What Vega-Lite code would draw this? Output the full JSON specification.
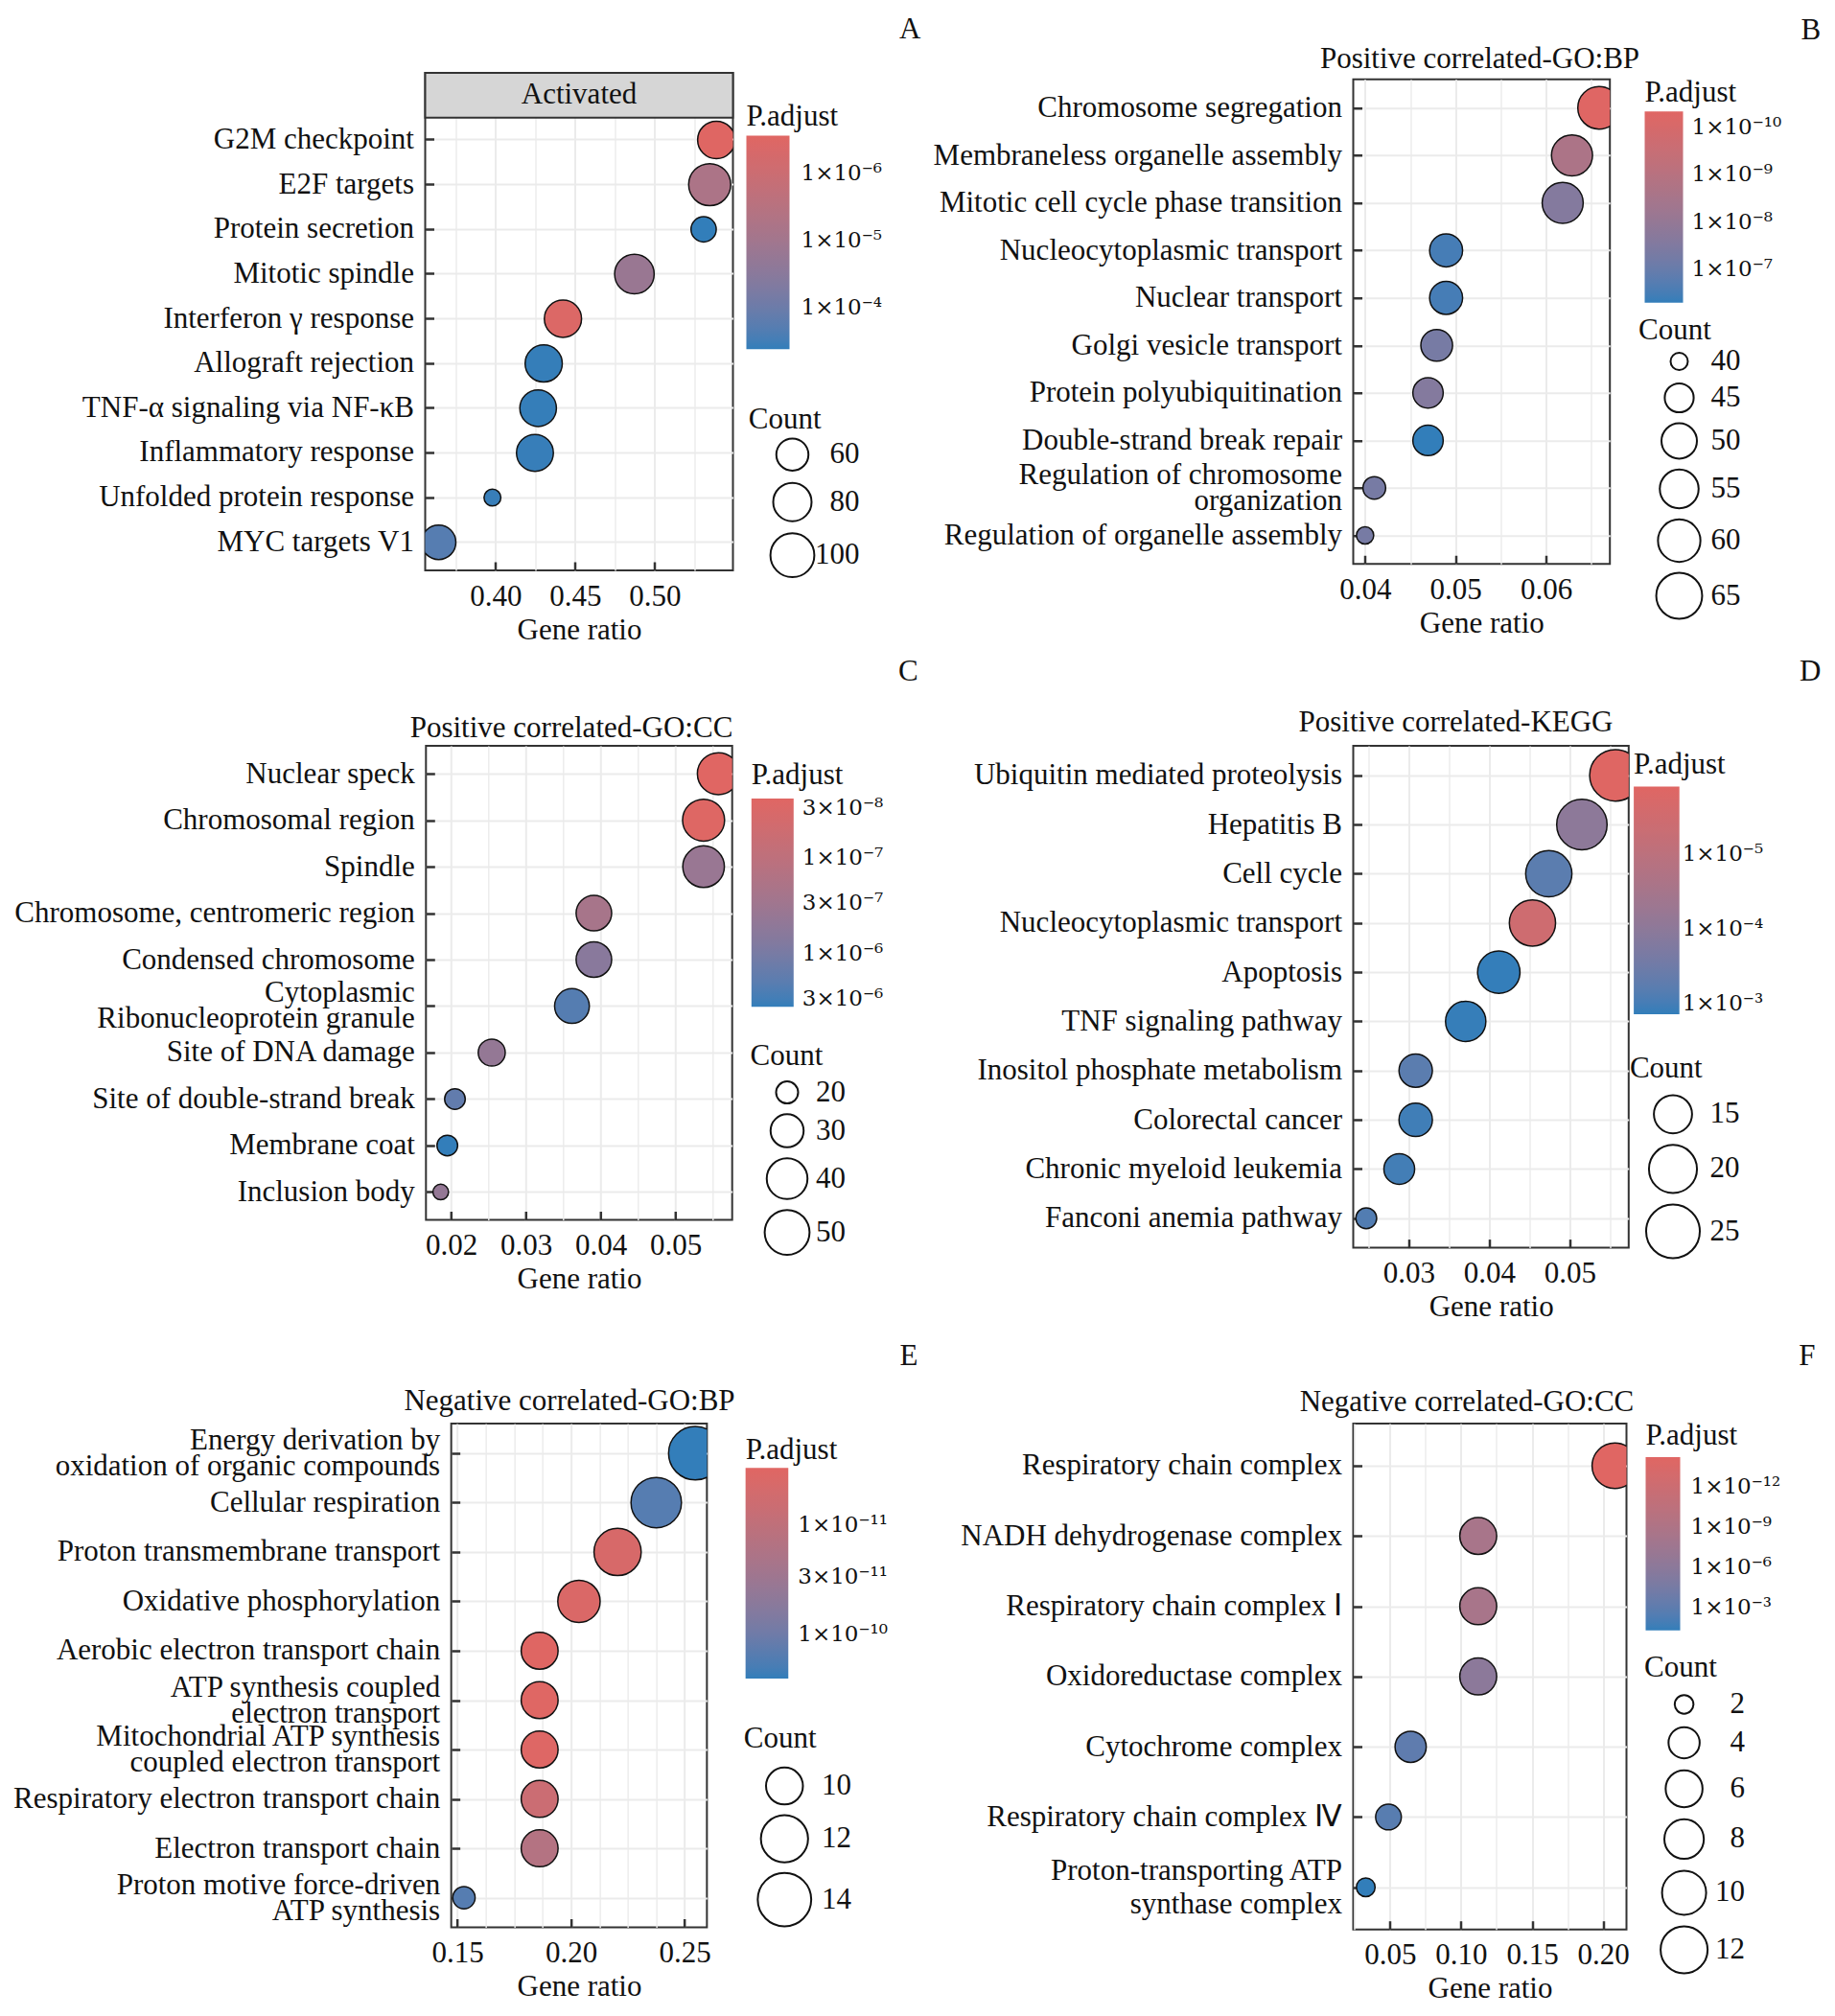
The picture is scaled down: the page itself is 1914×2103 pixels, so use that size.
{
  "$schema": "https://vega.github.io/schema/vega-lite/v6.json",
  "background": "white",
  "padding": {"left": 12.5, "top": 13, "right": 5, "bottom": 5},
  "config": {
    "font": "Liberation Serif",
    "view": {"stroke": "#333333", "strokeWidth": 2},
    "axis": {
      "labelFont": "Liberation Serif", "labelFontSize": 31, "labelColor": "#111111",
      "titleFont": "Liberation Serif", "titleFontSize": 31, "titleFontWeight": "normal", "titleColor": "#111111",
      "gridColor": "#EBEBEB", "gridWidth": 2,
      "tickColor": "#333333", "tickWidth": 2.5, "tickSize": -9,
      "labelPadding": 21, "domain": false, "labelOverlap": false, "labelLimit": 2000, "labelFlush": false, "titlePadding": 5
    },
    "legend": {
      "titleFont": "Liberation Serif", "titleFontSize": 31, "titleFontWeight": "normal", "titleColor": "#111111",
      "labelFont": "Liberation Serif", "labelFontSize": 31, "labelColor": "#111111",
      "padding": 0, "gradientStrokeWidth": 0, "labelOverlap": false, "symbolBaseFillColor": "white"
    },
    "title": {"font": "Liberation Serif", "fontSize": 31, "fontWeight": "normal", "color": "#111111"},
    "text": {"font": "Liberation Serif"}
  },
  "datasets": {
    "A": [
      {"term": "G2M checkpoint", "ratio": 0.5388, "padj": 2.8e-7, "count": 77},
      {"term": "E2F targets", "ratio": 0.5346, "padj": 5.9e-6, "count": 93},
      {"term": "Protein secretion", "ratio": 0.5308, "padj": 4.2e-4, "count": 42},
      {"term": "Mitotic spindle", "ratio": 0.4873, "padj": 1.5e-5, "count": 84},
      {"term": "Interferon γ response", "ratio": 0.4424, "padj": 3.5e-7, "count": 76},
      {"term": "Allograft rejection", "ratio": 0.4303, "padj": 4.0e-4, "count": 76},
      {"term": "TNF-α signaling via NF-κB", "ratio": 0.4268, "padj": 4.0e-4, "count": 74},
      {"term": "Inflammatory response", "ratio": 0.4248, "padj": 3.9e-4, "count": 75},
      {"term": "Unfolded protein response", "ratio": 0.3981, "padj": 3.8e-4, "count": 26},
      {"term": "MYC targets V1", "ratio": 0.3643, "padj": 2.0e-4, "count": 67}
    ],
    "A_strip": [
      {"term": "Activated"}
    ],
    "B": [
      {"term": "Chromosome segregation", "ratio": 0.06587, "padj": 5e-11, "count": 60},
      {"term": "Membraneless organelle assembly", "ratio": 0.06288, "padj": 2.2e-9, "count": 58},
      {"term": "Mitotic cell cycle phase transition", "ratio": 0.06185, "padj": 2.5e-8, "count": 58},
      {"term": "Nucleocytoplasmic transport", "ratio": 0.04896, "padj": 3.1e-7, "count": 48},
      {"term": "Nuclear transport", "ratio": 0.04896, "padj": 3.1e-7, "count": 48},
      {"term": "Golgi vesicle transport", "ratio": 0.04792, "padj": 4.8e-8, "count": 47},
      {"term": "Protein polyubiquitination", "ratio": 0.04696, "padj": 2.5e-8, "count": 46},
      {"term": "Double-strand break repair", "ratio": 0.04696, "padj": 4.9e-7, "count": 46},
      {"term": "Regulation of chromosome|organization", "ratio": 0.04102, "padj": 4.8e-8, "count": 42},
      {"term": "Regulation of organelle assembly", "ratio": 0.0400, "padj": 4.8e-8, "count": 40}
    ],
    "C": [
      {"term": "Nuclear speck", "ratio": 0.05572, "padj": 2.4e-8, "count": 43},
      {"term": "Chromosomal region", "ratio": 0.05374, "padj": 2.6e-8, "count": 43},
      {"term": "Spindle", "ratio": 0.05374, "padj": 3.8e-7, "count": 42},
      {"term": "Chromosome, centromeric region", "ratio": 0.03907, "padj": 2.3e-7, "count": 33},
      {"term": "Condensed chromosome", "ratio": 0.03907, "padj": 6.3e-7, "count": 33},
      {"term": "Cytoplasmic|Ribonucleoprotein granule", "ratio": 0.03614, "padj": 2.2e-6, "count": 32},
      {"term": "Site of DNA damage", "ratio": 0.02541, "padj": 4.4e-7, "count": 24},
      {"term": "Site of double-strand break", "ratio": 0.02049, "padj": 1.7e-6, "count": 19},
      {"term": "Membrane coat", "ratio": 0.01947, "padj": 3.6e-6, "count": 19},
      {"term": "Inclusion body", "ratio": 0.01859, "padj": 4.4e-7, "count": 16}
    ],
    "D": [
      {"term": "Ubiquitin mediated proteolysis", "ratio": 0.05565, "padj": 1.3e-6, "count": 23},
      {"term": "Hepatitis B", "ratio": 0.05149, "padj": 1.0e-4, "count": 22},
      {"term": "Cell cycle", "ratio": 0.04738, "padj": 6.0e-4, "count": 19},
      {"term": "Nucleocytoplasmic transport", "ratio": 0.04535, "padj": 3.6e-6, "count": 19},
      {"term": "Apoptosis", "ratio": 0.04117, "padj": 1.35e-3, "count": 17},
      {"term": "TNF signaling pathway", "ratio": 0.03706, "padj": 1.3e-3, "count": 16},
      {"term": "Inositol phosphate metabolism", "ratio": 0.03085, "padj": 6.0e-4, "count": 13},
      {"term": "Colorectal cancer", "ratio": 0.03085, "padj": 1.1e-3, "count": 13},
      {"term": "Chronic myeloid leukemia", "ratio": 0.02881, "padj": 1.05e-3, "count": 12},
      {"term": "Fanconi anemia pathway", "ratio": 0.02471, "padj": 7.5e-4, "count": 9}
    ],
    "E": [
      {"term": "Energy derivation by|oxidation of organic compounds", "ratio": 0.2547, "padj": 2.5e-10, "count": 14},
      {"term": "Cellular respiration", "ratio": 0.2375, "padj": 1.6e-10, "count": 13},
      {"term": "Proton transmembrane transport", "ratio": 0.2205, "padj": 4.2e-12, "count": 12},
      {"term": "Oxidative phosphorylation", "ratio": 0.2035, "padj": 3.8e-12, "count": 11},
      {"term": "Aerobic electron transport chain", "ratio": 0.1862, "padj": 3.1e-12, "count": 10},
      {"term": "ATP synthesis coupled|electron transport", "ratio": 0.1862, "padj": 3.2e-12, "count": 10},
      {"term": "Mitochondrial ATP synthesis|coupled electron transport", "ratio": 0.1862, "padj": 3.3e-12, "count": 10},
      {"term": "Respiratory electron transport chain", "ratio": 0.1862, "padj": 6.7e-12, "count": 10},
      {"term": "Electron transport chain", "ratio": 0.1862, "padj": 1.5e-11, "count": 10},
      {"term": "Proton motive force-driven|ATP synthesis", "ratio": 0.1529, "padj": 1.6e-10, "count": 8}
    ],
    "F": [
      {"term": "Respiratory chain complex", "ratio": 0.2083, "padj": 7e-15, "count": 11},
      {"term": "NADH dehydrogenase complex", "ratio": 0.1121, "padj": 4e-9, "count": 6},
      {"term": "Respiratory chain complex Ⅰ", "ratio": 0.1121, "padj": 4e-9, "count": 6},
      {"term": "Oxidoreductase complex", "ratio": 0.1121, "padj": 8.7e-7, "count": 6},
      {"term": "Cytochrome complex", "ratio": 0.0645, "padj": 8e-4, "count": 4},
      {"term": "Respiratory chain complex Ⅳ", "ratio": 0.0489, "padj": 1.9e-3, "count": 3},
      {"term": "Proton-transporting ATP|synthase complex", "ratio": 0.0329, "padj": 0.05, "count": 2}
    ]
  },
  "columns": 2,
  "spacing": {"row": 183, "column": 647},
  "bounds": "flush",
  "align": "each",
  "center": true,
  "resolve": {
    "scale": {"color": "independent", "size": "independent"},
    "legend": {"color": "independent", "size": "independent"}
  },
  "concat": [
    {
      "width": 321,
      "height": 519,
      "title": {"text": "A", "anchor": "end", "frame": "group", "dx": 196, "offset": 4.1, "baseline": "alphabetic"},
      "layer": [
        {
          "data": {"name": "A"},
          "mark": {"type": "point", "filled": true, "opacity": 1, "stroke": "#111111", "strokeWidth": 1.5, "clip": true},
          "encoding": {
            "x": {
              "field": "ratio", "type": "quantitative",
              "scale": {"domain": [0.35584, 0.54922], "nice": false, "zero": false},
              "axis": {
                "orient": "bottom", "title": "Gene ratio",
                "values": [0.375, 0.4, 0.425, 0.45, 0.475, 0.5, 0.525],
                "labelExpr": "indexof([0.4, 0.45, 0.5], datum.value) >= 0 ? format(datum.value, '.2f') : ''",
                "tickOpacity": {"condition": {"test": "indexof([0.4, 0.45, 0.5], datum.value) >= 0", "value": 1}, "value": 0},
                "gridWidth": {"condition": {"test": "indexof([0.4, 0.45, 0.5], datum.value) >= 0", "value": 2}, "value": 1.4}
              }
            },
            "y": {
              "field": "term", "type": "nominal", "sort": null,
              "scale": {
                "type": "band", "paddingInner": 0, "paddingOuter": 0.064, "align": 0,
                "domain": ["Activated", "G2M checkpoint", "E2F targets", "Protein secretion", "Mitotic spindle", "Interferon γ response", "Allograft rejection", "TNF-α signaling via NF-κB", "Inflammatory response", "Unfolded protein response", "MYC targets V1"]
              },
              "axis": {
                "title": null, "grid": true, "bandPosition": 0.5,
                "values": ["G2M checkpoint", "E2F targets", "Protein secretion", "Mitotic spindle", "Interferon γ response", "Allograft rejection", "TNF-α signaling via NF-κB", "Inflammatory response", "Unfolded protein response", "MYC targets V1"]
              }
            },
            "color": {
              "field": "padj", "type": "quantitative",
              "scale": {"type": "log", "domain": [4.2e-4, 2.7e-7], "range": ["#327EBA", "#E06663"], "interpolate": "lab", "nice": false},
              "legend": {
                "title": "P.adjust", "orient": "none", "legendX": 335, "legendY": 30.9, "direction": "vertical",
                "gradientLength": 222.6, "gradientThickness": 45, "titlePadding": 3.7,
                "values": [1e-6, 1e-5, 1e-4], "labelFont": "DejaVu Serif", "labelFontSize": 23, "labelOffset": 12,
                "labelExpr": "round(log(datum.value)/LN10*10) == -60 ? '1×10⁻⁶' : round(log(datum.value)/LN10*10) == -50 ? '1×10⁻⁵' : '1×10⁻⁴'"
              }
            },
            "size": {
              "field": "count", "type": "quantitative",
              "scale": {"domain": [60, 80, 100], "range": [1122, 1600, 2098], "zero": false, "nice": false},
              "legend": {
                "title": "Count", "orient": "none", "legendX": 337.2, "legendY": 347.2, "direction": "vertical",
                "values": [60, 80, 100], "symbolType": "circle", "symbolFillColor": "white", "symbolStrokeColor": "#111111", "symbolStrokeWidth": 2,
                "symbolOffset": 21.8, "labelOffset": 46, "labelAlign": "right", "rowPadding": 4.5, "titlePadding": 2,
                "encode": {"symbols": {"update": {"fill": {"value": "white"}, "stroke": {"value": "#111111"}, "strokeWidth": {"value": 2}}}}
              }
            }
          }
        },
        {
          "data": {"name": "A_strip"},
          "mark": {"type": "rect", "fill": "#D6D6D6", "stroke": "#333333", "strokeWidth": 2},
          "encoding": {"y": {"field": "term", "type": "nominal", "sort": null}}
        },
        {
          "data": {"name": "A_strip"},
          "mark": {"type": "text", "fontSize": 31, "color": "#111111"},
          "encoding": {"y": {"field": "term", "type": "nominal", "sort": null}, "text": {"field": "term"}}
        }
      ]
    },
    {
      "width": 267.7,
      "height": 505.5,
      "title": {"text": "B", "anchor": "end", "frame": "group", "dx": 220, "offset": -26.15, "baseline": "alphabetic"},
      "layer": [
        {
          "data": {"name": "B"},
          "mark": {"type": "point", "filled": true, "opacity": 1, "stroke": "#111111", "strokeWidth": 1.5, "clip": true},
          "encoding": {
            "x": {
              "field": "ratio", "type": "quantitative",
              "scale": {"domain": [0.03869, 0.06707], "nice": false, "zero": false},
              "axis": {
                "orient": "bottom", "title": "Gene ratio",
                "values": [0.04, 0.045, 0.05, 0.055, 0.06, 0.065],
                "labelExpr": "indexof([0.04, 0.05, 0.06], datum.value) >= 0 ? format(datum.value, '.2f') : ''",
                "tickOpacity": {"condition": {"test": "indexof([0.04, 0.05, 0.06], datum.value) >= 0", "value": 1}, "value": 0},
                "gridWidth": {"condition": {"test": "indexof([0.04, 0.05, 0.06], datum.value) >= 0", "value": 2}, "value": 1.4}
              }
            },
            "y": {
              "field": "term", "type": "nominal", "sort": null,
              "scale": {"type": "point", "padding": 0.6},
              "axis": {"title": null, "grid": true, "labelExpr": "split(datum.label, '|')", "labelLineHeight": 27,
                       "labelOffset": {"condition": {"test": "indexof(datum.label, '|') >= 0", "value": -13.5}, "value": 0}}
            },
            "color": {
              "field": "padj", "type": "quantitative",
              "scale": {"type": "log", "domain": [4.9e-7, 4.6e-11], "range": ["#327EBA", "#E06663"], "interpolate": "lab", "nice": false},
              "legend": {
                "title": "P.adjust", "orient": "none", "legendX": 304, "legendY": -1, "direction": "vertical",
                "gradientLength": 199.5, "gradientThickness": 40, "titlePadding": 3.4,
                "values": [1e-10, 1e-9, 1e-8, 1e-7], "labelFont": "DejaVu Serif", "labelFontSize": 23, "labelOffset": 9,
                "labelExpr": "round(log(datum.value)/LN10*10) == -100 ? '1×10⁻¹⁰' : round(log(datum.value)/LN10*10) == -90 ? '1×10⁻⁹' : round(log(datum.value)/LN10*10) == -80 ? '1×10⁻⁸' : '1×10⁻⁷'"
              }
            },
            "size": {
              "field": "count", "type": "quantitative",
              "scale": {"domain": [40, 45, 50, 55, 60, 65], "range": [324, 912, 1369, 1640, 1962, 2294], "zero": false, "nice": false},
              "legend": {
                "title": "Count", "orient": "none", "legendX": 297.5, "legendY": 246.75, "direction": "vertical",
                "values": [40, 45, 50, 55, 60, 65], "symbolType": "circle", "symbolFillColor": "white", "symbolStrokeColor": "#111111", "symbolStrokeWidth": 2,
                "symbolOffset": 17.5, "labelOffset": 39, "labelAlign": "right", "rowPadding": 3, "titlePadding": 1,
                "encode": {"symbols": {"update": {"fill": {"value": "white"}, "stroke": {"value": "#111111"}, "strokeWidth": {"value": 2}}}}
              }
            }
          }
        },
        {
          "data": {"name": "B"},
          "mark": {"type": "point", "opacity": 0},
          "encoding": {
            "x": {
              "field": "ratio", "type": "quantitative",
              "axis": {"orient": "top", "labels": false, "ticks": false, "domain": false, "grid": false, "minExtent": 0, "maxExtent": 0,
                       "title": "Positive correlated-GO:BP", "titlePadding": 12, "titleX": 131.5, "titleBaseline": "alphabetic"}
            }
          }
        }
      ]
    },
    {
      "width": 319.4,
      "height": 494.5,
      "title": {"text": "C", "anchor": "end", "frame": "group", "dx": 194, "offset": 2.1, "baseline": "alphabetic"},
      "layer": [
        {
          "data": {"name": "C"},
          "mark": {"type": "point", "filled": true, "opacity": 1, "stroke": "#111111", "strokeWidth": 1.5, "clip": true},
          "encoding": {
            "x": {
              "field": "ratio", "type": "quantitative",
              "scale": {"domain": [0.016615, 0.057564], "nice": false, "zero": false},
              "axis": {
                "orient": "bottom", "title": "Gene ratio",
                "values": [0.02, 0.025, 0.03, 0.035, 0.04, 0.045, 0.05, 0.055],
                "labelExpr": "indexof([0.02, 0.03, 0.04, 0.05], datum.value) >= 0 ? format(datum.value, '.2f') : ''",
                "tickOpacity": {"condition": {"test": "indexof([0.02, 0.03, 0.04, 0.05], datum.value) >= 0", "value": 1}, "value": 0},
                "gridWidth": {"condition": {"test": "indexof([0.02, 0.03, 0.04, 0.05], datum.value) >= 0", "value": 2}, "value": 1.4}
              }
            },
            "y": {
              "field": "term", "type": "nominal", "sort": null,
              "scale": {"type": "point", "padding": 0.6},
              "axis": {"title": null, "grid": true, "labelExpr": "split(datum.label, '|')", "labelLineHeight": 27,
                       "labelOffset": {"condition": {"test": "indexof(datum.label, '|') >= 0", "value": -13.5}, "value": 0}}
            },
            "color": {
              "field": "padj", "type": "quantitative",
              "scale": {"type": "log", "domain": [3.62e-6, 2.39e-8], "range": ["#327EBA", "#E06663"], "interpolate": "lab", "nice": false},
              "legend": {
                "title": "P.adjust", "orient": "none", "legendX": 339.5, "legendY": 16, "direction": "vertical",
                "gradientLength": 217.4, "gradientThickness": 44, "titlePadding": 7.9,
                "values": [3e-8, 1e-7, 3e-7, 1e-6, 3e-6], "labelFont": "DejaVu Serif", "labelFontSize": 23, "labelOffset": 9,
                "labelExpr": "round(log(datum.value)/LN10*10) == -75 ? '3×10⁻⁸' : round(log(datum.value)/LN10*10) == -70 ? '1×10⁻⁷' : round(log(datum.value)/LN10*10) == -65 ? '3×10⁻⁷' : round(log(datum.value)/LN10*10) == -60 ? '1×10⁻⁶' : '3×10⁻⁶'"
              }
            },
            "size": {
              "field": "count", "type": "quantitative",
              "scale": {"domain": [20, 30, 40, 50], "range": [529, 1190, 1806, 2190], "zero": false, "nice": false},
              "legend": {
                "title": "Count", "orient": "none", "legendX": 338.2, "legendY": 308.5, "direction": "vertical",
                "values": [20, 30, 40, 50], "symbolType": "circle", "symbolFillColor": "white", "symbolStrokeColor": "#111111", "symbolStrokeWidth": 2,
                "symbolOffset": 14, "labelOffset": 36.4, "labelAlign": "right", "rowPadding": 3, "titlePadding": 6.6,
                "encode": {"symbols": {"update": {"fill": {"value": "white"}, "stroke": {"value": "#111111"}, "strokeWidth": {"value": 2}}}}
              }
            }
          }
        },
        {
          "data": {"name": "C"},
          "mark": {"type": "point", "opacity": 0},
          "encoding": {
            "x": {
              "field": "ratio", "type": "quantitative",
              "axis": {"orient": "top", "labels": false, "ticks": false, "domain": false, "grid": false, "minExtent": 0, "maxExtent": 0,
                       "title": "Positive correlated-GO:CC", "titlePadding": 10, "titleX": 151.2, "titleBaseline": "alphabetic"}
            }
          }
        }
      ]
    },
    {
      "width": 287.3,
      "height": 523.6,
      "title": {"text": "D", "anchor": "end", "frame": "group", "dx": 200.7, "offset": -3.9, "baseline": "alphabetic"},
      "layer": [
        {
          "data": {"name": "D"},
          "mark": {"type": "point", "filled": true, "opacity": 1, "stroke": "#111111", "strokeWidth": 1.5, "clip": true},
          "encoding": {
            "x": {
              "field": "ratio", "type": "quantitative",
              "scale": {"domain": [0.023095, 0.0573], "nice": false, "zero": false},
              "axis": {
                "orient": "bottom", "title": "Gene ratio",
                "values": [0.025, 0.03, 0.035, 0.04, 0.045, 0.05, 0.055],
                "labelExpr": "indexof([0.03, 0.04, 0.05], datum.value) >= 0 ? format(datum.value, '.2f') : ''",
                "tickOpacity": {"condition": {"test": "indexof([0.03, 0.04, 0.05], datum.value) >= 0", "value": 1}, "value": 0},
                "gridWidth": {"condition": {"test": "indexof([0.03, 0.04, 0.05], datum.value) >= 0", "value": 2}, "value": 1.4}
              }
            },
            "y": {
              "field": "term", "type": "nominal", "sort": null,
              "scale": {"type": "point", "padding": 0.6},
              "axis": {"title": null, "grid": true}
            },
            "color": {
              "field": "padj", "type": "quantitative",
              "scale": {"type": "log", "domain": [1.39e-3, 1.26e-6], "range": ["#327EBA", "#E06663"], "interpolate": "lab", "nice": false},
              "legend": {
                "title": "P.adjust", "orient": "none", "legendX": 292.6, "legendY": 4.9, "direction": "vertical",
                "gradientLength": 237.5, "gradientThickness": 47.6, "titlePadding": 6.5,
                "values": [1e-5, 1e-4, 1e-3], "labelFont": "DejaVu Serif", "labelFontSize": 23, "labelOffset": 3,
                "labelExpr": "round(log(datum.value)/LN10*10) == -50 ? '1×10⁻⁵' : round(log(datum.value)/LN10*10) == -40 ? '1×10⁻⁴' : '1×10⁻³'"
              }
            },
            "size": {
              "field": "count", "type": "quantitative",
              "scale": {"domain": [15, 20, 25], "range": [1584, 2510, 3136], "zero": false, "nice": false},
              "legend": {
                "title": "Count", "orient": "none", "legendX": 288.4, "legendY": 321.9, "direction": "vertical",
                "values": [15, 20, 25], "symbolType": "circle", "symbolFillColor": "white", "symbolStrokeColor": "#111111", "symbolStrokeWidth": 2,
                "symbolOffset": 16.1, "labelOffset": 40.5, "labelAlign": "right", "rowPadding": 3.6, "titlePadding": 10.4,
                "encode": {"symbols": {"update": {"fill": {"value": "white"}, "stroke": {"value": "#111111"}, "strokeWidth": {"value": 2}}}}
              }
            }
          }
        },
        {
          "data": {"name": "D"},
          "mark": {"type": "point", "opacity": 0},
          "encoding": {
            "x": {
              "field": "ratio", "type": "quantitative",
              "axis": {"orient": "top", "labels": false, "ticks": false, "domain": false, "grid": false, "minExtent": 0, "maxExtent": 0,
                       "title": "Positive correlated-KEGG", "titlePadding": 16, "titleX": 106.5, "titleBaseline": "alphabetic"}
            }
          }
        }
      ]
    },
    {
      "width": 266.7,
      "height": 525.5,
      "title": {"text": "E", "anchor": "end", "frame": "group", "dx": 220, "offset": -10.3, "baseline": "alphabetic"},
      "layer": [
        {
          "data": {"name": "E"},
          "mark": {"type": "point", "filled": true, "opacity": 1, "stroke": "#111111", "strokeWidth": 1.5, "clip": true},
          "encoding": {
            "x": {
              "field": "ratio", "type": "quantitative",
              "scale": {"domain": [0.1473, 0.2598], "nice": false, "zero": false},
              "axis": {
                "orient": "bottom", "title": "Gene ratio",
                "values": [0.15, 0.1625, 0.175, 0.1875, 0.2, 0.2125, 0.225, 0.2375, 0.25],
                "labelExpr": "indexof([0.15, 0.2, 0.25], datum.value) >= 0 ? format(datum.value, '.2f') : ''",
                "tickOpacity": {"condition": {"test": "indexof([0.15, 0.2, 0.25], datum.value) >= 0", "value": 1}, "value": 0},
                "gridWidth": {"condition": {"test": "indexof([0.15, 0.2, 0.25], datum.value) >= 0", "value": 2}, "value": 1.4}
              }
            },
            "y": {
              "field": "term", "type": "nominal", "sort": null,
              "scale": {"type": "point", "padding": 0.6},
              "axis": {"title": null, "grid": true, "labelExpr": "split(datum.label, '|')", "labelLineHeight": 27,
                       "labelOffset": {"condition": {"test": "indexof(datum.label, '|') >= 0", "value": -13.5}, "value": 0}}
            },
            "color": {
              "field": "padj", "type": "quantitative",
              "scale": {"type": "log", "domain": [2.53e-10, 3.03e-12], "range": ["#327EBA", "#E06663"], "interpolate": "lab", "nice": false},
              "legend": {
                "title": "P.adjust", "orient": "none", "legendX": 307, "legendY": 13.2, "direction": "vertical",
                "gradientLength": 219.7, "gradientThickness": 44.6, "titlePadding": 2.1,
                "values": [1e-11, 3e-11, 1e-10], "labelFont": "DejaVu Serif", "labelFontSize": 23, "labelOffset": 10,
                "labelExpr": "round(log(datum.value)/LN10*10) == -110 ? '1×10⁻¹¹' : round(log(datum.value)/LN10*10) == -105 ? '3×10⁻¹¹' : '1×10⁻¹⁰'"
              }
            },
            "size": {
              "field": "count", "type": "quantitative",
              "scale": {"domain": [10, 12, 14], "range": [1482, 2421, 3114], "zero": false, "nice": false},
              "legend": {
                "title": "Count", "orient": "none", "legendX": 305.2, "legendY": 313.6, "direction": "vertical",
                "values": [10, 12, 14], "symbolType": "circle", "symbolFillColor": "white", "symbolStrokeColor": "#111111", "symbolStrokeWidth": 2,
                "symbolOffset": 13.4, "labelOffset": 40.8, "labelAlign": "right", "rowPadding": 2.5, "titlePadding": 13,
                "encode": {"symbols": {"update": {"fill": {"value": "white"}, "stroke": {"value": "#111111"}, "strokeWidth": {"value": 2}}}}
              }
            }
          }
        },
        {
          "data": {"name": "E"},
          "mark": {"type": "point", "opacity": 0},
          "encoding": {
            "x": {
              "field": "ratio", "type": "quantitative",
              "axis": {"orient": "top", "labels": false, "ticks": false, "domain": false, "grid": false, "minExtent": 0, "maxExtent": 0,
                       "title": "Negative correlated-GO:BP", "titlePadding": 15, "titleX": 122.85, "titleBaseline": "alphabetic"}
            }
          }
        }
      ]
    },
    {
      "width": 285,
      "height": 527.7,
      "title": {"text": "F", "anchor": "end", "frame": "group", "dx": 197, "offset": -9.3, "baseline": "alphabetic"},
      "layer": [
        {
          "data": {"name": "F"},
          "mark": {"type": "point", "filled": true, "opacity": 1, "stroke": "#111111", "strokeWidth": 1.5, "clip": true},
          "encoding": {
            "x": {
              "field": "ratio", "type": "quantitative",
              "scale": {"domain": [0.02408, 0.2165], "nice": false, "zero": false},
              "axis": {
                "orient": "bottom", "title": "Gene ratio",
                "values": [0.025, 0.05, 0.075, 0.1, 0.125, 0.15, 0.175, 0.2],
                "labelExpr": "indexof([0.05, 0.1, 0.15, 0.2], datum.value) >= 0 ? format(datum.value, '.2f') : ''",
                "tickOpacity": {"condition": {"test": "indexof([0.05, 0.1, 0.15, 0.2], datum.value) >= 0", "value": 1}, "value": 0},
                "gridWidth": {"condition": {"test": "indexof([0.05, 0.1, 0.15, 0.2], datum.value) >= 0", "value": 2}, "value": 1.4}
              }
            },
            "y": {
              "field": "term", "type": "nominal", "sort": null,
              "scale": {"type": "point", "padding": 0.6},
              "axis": {"title": null, "grid": true, "labelExpr": "split(datum.label, '|')", "labelLineHeight": 35,
                       "labelOffset": {"condition": {"test": "indexof(datum.label, '|') >= 0", "value": -17.5}, "value": 0}}
            },
            "color": {
              "field": "padj", "type": "quantitative",
              "scale": {"type": "log", "domain": [0.05, 6.7e-15], "range": ["#327EBA", "#E06663"], "interpolate": "lab", "nice": false},
              "legend": {
                "title": "P.adjust", "orient": "none", "legendX": 305, "legendY": -2.5, "direction": "vertical",
                "gradientLength": 180.7, "gradientThickness": 36, "titlePadding": 6.6,
                "values": [1e-12, 1e-9, 1e-6, 1e-3], "labelFont": "DejaVu Serif", "labelFontSize": 23, "labelOffset": 11,
                "labelExpr": "round(log(datum.value)/LN10*10) == -120 ? '1×10⁻¹²' : round(log(datum.value)/LN10*10) == -90 ? '1×10⁻⁹' : round(log(datum.value)/LN10*10) == -60 ? '1×10⁻⁶' : '1×10⁻³'"
              }
            },
            "size": {
              "field": "count", "type": "quantitative",
              "scale": {"domain": [2, 4, 6, 8, 10, 12], "range": [380, 1056, 1482, 1697, 2116, 2401], "zero": false, "nice": false},
              "legend": {
                "title": "Count", "orient": "none", "legendX": 303.6, "legendY": 239.6, "direction": "vertical",
                "values": [2, 4, 6, 8, 10, 12], "symbolType": "circle", "symbolFillColor": "white", "symbolStrokeColor": "#111111", "symbolStrokeWidth": 2,
                "symbolOffset": 16, "labelOffset": 38, "labelAlign": "right", "rowPadding": 4, "titlePadding": 6.8,
                "encode": {"symbols": {"update": {"fill": {"value": "white"}, "stroke": {"value": "#111111"}, "strokeWidth": {"value": 2}}}}
              }
            }
          }
        },
        {
          "data": {"name": "F"},
          "mark": {"type": "point", "opacity": 0},
          "encoding": {
            "x": {
              "field": "ratio", "type": "quantitative",
              "axis": {"orient": "top", "labels": false, "ticks": false, "domain": false, "grid": false, "minExtent": 0, "maxExtent": 0,
                       "title": "Negative correlated-GO:CC", "titlePadding": 14, "titleX": 118, "titleBaseline": "alphabetic"}
            }
          }
        }
      ]
    }
  ]
}
